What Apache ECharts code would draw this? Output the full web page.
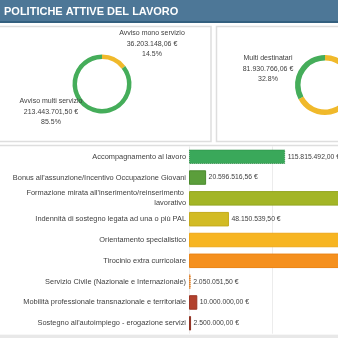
<!DOCTYPE html>
<html><head><meta charset="utf-8">
<script src="https://cdn.jsdelivr.net/npm/echarts@6/dist/echarts.min.js"></script>
<style>html,body{margin:0;padding:0;overflow:hidden;background:#fff;width:338px;height:338px}#c{width:520px;height:338px}</style>
</head><body><div id="c"></div>
<script>
const title = "POLITICHE ATTIVE DEL LAVORO";
const pie1Names = ["Avviso mono servizio", "Avviso multi servizio"];
const pie1Values = [36203148.06, 213443701.50];
const pie2Names = ["Mono destinatario", "Multi destinatari"];
const pie2Values = [167716083.50, 81930766.06];
const barCategories = [
  "Accompagnamento al lavoro",
  "Bonus all'assunzione/Incentivo Occupazione Giovani",
  "Formazione mirata all'inserimento/reinserimento lavorativo",
  "Indennità di sostegno legata ad una o più PAL",
  "Orientamento specialistico",
  "Tirocinio extra curricolare",
  "Servizio Civile (Nazionale e Internazionale)",
  "Mobilità professionale transnazionale e territoriale",
  "Sostegno all'autoimpiego - erogazione servizi"
];
const barValues = [115815492.00, 20596516.56, 250000000, 48150539.50, 240000000, 260000000, 2050051.50, 10000000.00, 2500000.00];

const barColors = ["#3aa85a","#5b9e3b","#a3b526","#d2bb24","#f7b522","#f5901e","#f29a2e","#b2412d","#a73c2b"];
const barBorders = ["#2a8c45","#4a8a2e","#93a520","#c4ab1c","#eea818","#ea8416","#d86a10","#9c3424","#8f3122"];
const pieColors = ["#f0b92b","#45ad5a"];

function fmt(v){
  const p = v.toFixed(2).split(".");
  return p[0].replace(/\B(?=(\d{3})+(?!\d))/g, ".") + "," + p[1] + " €";
}
function pct(values, i){
  const t = values.reduce((a,b)=>a+b,0);
  return (values[i]/t*100).toFixed(1) + "%";
}

const FONT = "Liberation Sans";
const chart = echarts.init(document.getElementById('c'), null, {renderer:'canvas'});

const pieLabel = (values) => ({
  show: true, overflow: 'none',
  formatter: p => p.name + "\n" + fmt(values[p.dataIndex]) + "\n" + pct(values, p.dataIndex),
  fontFamily: FONT, fontSize: 7, color: "#404040", lineHeight: 10.5, align: 'center'
});

chart.setOption({
  animation: false,
  graphic: [
    {type:'rect', shape:{x:0,y:0,width:520,height:21}, style:{fill:'#4d7797'}},
    {type:'rect', shape:{x:0,y:21,width:520,height:2}, style:{fill:'#34607f'}},
    {type:'text', x:4, y:12, style:{text:title, fill:'#fff', font:'bold 11px "Liberation Sans"', textVerticalAlign:'middle'}},
    {type:'rect', shape:{x:-3,y:26.5,width:214,height:115}, style:{fill:'none', stroke:'#dedede', lineWidth:1.5}},
    {type:'rect', shape:{x:216.5,y:26.5,width:400,height:115}, style:{fill:'none', stroke:'#dedede', lineWidth:1.5}},
    {type:'rect', shape:{x:-3,y:145.5,width:600,height:190}, style:{fill:'none', stroke:'#dedede', lineWidth:1.5}},
    {type:'rect', shape:{x:0,y:335,width:600,height:3}, style:{fill:'#e8e8e8'}}
  ],
  grid: {left:189, top:146.3, width:249, height:187.4, containLabel:false},
  xAxis: {type:'value', min:0, max:300000000, interval:100000000,
    axisLabel:{show:false}, axisLine:{show:false}, axisTick:{show:false},
    splitLine:{show:true, lineStyle:{color:'#ececec', width:1}}},
  yAxis: {type:'category', data:barCategories, inverse:true,
    axisLine:{show:false}, axisTick:{show:false},
    axisLabel:{fontFamily:FONT, fontSize:7.4, color:'#404040', margin:3, width:178, overflow:'break', lineHeight:10}},
  series: [
    {type:'bar', barWidth:14.5,
      data: barValues.map((v,i)=>({value:v, itemStyle:{color:barColors[i], borderColor:barBorders[i], borderWidth:1, borderType: (i===0||i===6)?'dotted':'solid'}})),
      label:{show:true, position:'right', distance:2.5, fontFamily:FONT, fontSize:6.8, color:'#404040', formatter:p=>fmt(barValues[p.dataIndex])}
    },
    {type:'pie', center:[102,84], radius:[25,29.5], startAngle:90, clockwise:true,
      data: pie1Names.map((n,i)=>({name:n, value:pie1Values[i], itemStyle:{color:pieColors[i]}})),
      label: pieLabel(pie1Values), labelLine:{show:false},
      labelLayout: p => p.dataIndex===0 ? {x:152, y:44, align:'center', verticalAlign:'middle'} : {x:51, y:112, align:'center', verticalAlign:'middle'},
      emphasis:{disabled:true}
    },
    {type:'pie', center:[325,85], radius:[24.5,30], startAngle:90, clockwise:true,
      data: pie2Names.map((n,i)=>({name:n, value:pie2Values[i], itemStyle:{color:pieColors[i]}})),
      label: pieLabel(pie2Values), labelLine:{show:false},
      labelLayout: p => p.dataIndex===1 ? {x:268, y:69, align:'center', verticalAlign:'middle'} : {x:410, y:100, align:'center', verticalAlign:'middle'},
      emphasis:{disabled:true}
    }
  ]
});
</script></body></html>
